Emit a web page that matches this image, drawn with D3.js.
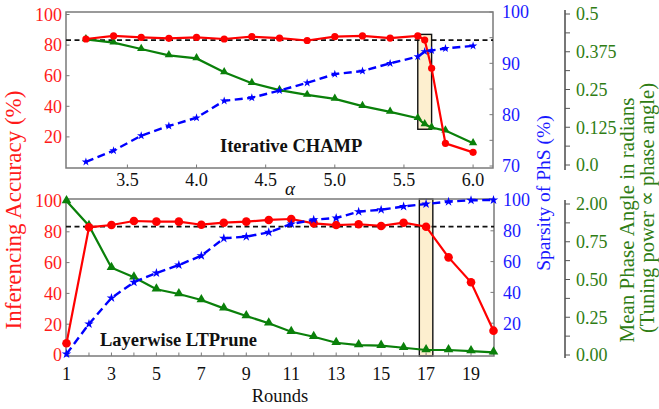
<!DOCTYPE html>
<html>
<head>
<meta charset="utf-8">
<script src="https://cdn.jsdelivr.net/npm/d3@7"></script>
<style>
  html, body { margin: 0; padding: 0; background: #fff; }
  svg { display: block; }
</style>
</head>
<body>
<svg id="chart" width="659" height="409"></svg>
<script>
// ---- Iterative CHAMP (sweep over alpha) ----
const alphaValues = [3.2, 3.4, 3.6, 3.8, 4.0, 4.2, 4.4, 4.6, 4.8, 5.0, 5.2, 5.4, 5.6, 5.65, 5.7, 5.8, 6.0];
const champAccuracy = [84, 86, 85, 84.4, 85, 84, 85.5, 84.6, 83, 85.5, 86, 84.6, 86, 83.3, 64.8, 15.8, 9.9];
const champSparsity = [70.8, 73.0, 75.9, 77.8, 79.4, 82.7, 83.3, 84.7, 86.2, 87.9, 88.5, 90.0, 91.3, 92.3, 92.5, 92.9, 93.4];
const champPhase = [0.416, 0.405, 0.384, 0.363, 0.353, 0.307, 0.271, 0.248, 0.232, 0.219, 0.195, 0.176, 0.155, 0.135, 0.124, 0.114, 0.072];
const champAlphaTicks = [3.5, 4.0, 4.5, 5.0, 5.5, 6.0];
const champAccTicks = [20, 40, 60, 80, 100];
const champSparTicks = [70, 80, 90, 100];
const champPhaseTicks = [0, 0.125, 0.25, 0.375, 0.5];
const champPhaseLabels = ["0.0", "0.125", "0.25", "0.375", "0.5"];
const champSelected = { x0: 5.6, x1: 5.7, y0: 25, y1: 87 };

// ---- Layerwise LTPrune (pruning rounds) ----
const rounds = d3.range(1, 21);
const ltAccuracy = [7.6, 82.9, 84.4, 87.0, 86.6, 86.6, 84.6, 85.9, 86.6, 87.7, 88.3, 85.5, 84.4, 84.9, 83.8, 85.9, 83.3, 63.4, 47.2, 15.8];
const ltSparsity = [0, 19.5, 36.4, 46.6, 52.6, 57.8, 63.8, 75.1, 76.2, 79, 84.4, 87.2, 88.3, 92.4, 93.7, 95.8, 97.4, 98.9, 99.8, 100];
const ltPhase = [1.02, 0.856, 0.578, 0.515, 0.435, 0.404, 0.364, 0.309, 0.258, 0.21, 0.154, 0.121, 0.081, 0.066, 0.062, 0.048, 0.033, 0.033, 0.026, 0.018];
const ltRoundTicks = [1, 3, 5, 7, 9, 11, 13, 15, 17, 19];
const ltAccTicks = [0, 20, 40, 60, 80, 100];
const ltSparTicks = [20, 40, 60, 80, 100];
const ltPhaseTicks = [0, 0.25, 0.5, 0.75, 1.0];
const ltPhaseLabels = ["0.00", "0.25", "0.50", "0.75", "2.00"];
const ltSelected = { x0: 16.7, x1: 17.3 };

// baseline accuracy reference
const baselineAccuracy = 83.3;

const RED = "#ff0000", BLUE = "#0000ff", GREEN = "#0a800a";
const RED_TXT = "#ff1a1a", BLUE_TXT = "#1a1aff", GREEN_TXT = "#2f7d14";
const FRAME = "#7a7a7a";
const SERIF = "'Liberation Serif', 'Times New Roman', Times, serif";

const svg = d3.select("#chart").attr("font-family", SERIF);

function panel(cfg) {
  const g = svg.append("g");
  const { box } = cfg;

  // highlighted selection band
  g.append("rect")
    .attr("x", cfg.x(cfg.sel.x0)).attr("width", cfg.x(cfg.sel.x1) - cfg.x(cfg.sel.x0))
    .attr("y", cfg.selY0).attr("height", cfg.selY1 - cfg.selY0)
    .attr("fill", "#fdefcf").attr("stroke", "#111").attr("stroke-width", 1.4);

  // frame
  g.append("rect")
    .attr("x", box.l).attr("y", box.t).attr("width", box.r - box.l).attr("height", box.b - box.t)
    .attr("fill", "none").attr("stroke", FRAME).attr("stroke-width", 1.5);

  // inward ticks: bottom
  g.selectAll(".xt").data(cfg.xMinor).join("line")
    .attr("x1", d => cfg.x(d)).attr("x2", d => cfg.x(d))
    .attr("y1", box.b).attr("y2", box.b - 3.5)
    .attr("stroke", FRAME).attr("stroke-width", 1);
  // inward ticks: left
  g.selectAll(".lt").data(cfg.accTicks).join("line")
    .attr("x1", box.l).attr("x2", box.l + 3.5)
    .attr("y1", d => cfg.yAcc(d)).attr("y2", d => cfg.yAcc(d))
    .attr("stroke", FRAME).attr("stroke-width", 1);
  // inward ticks: right
  g.selectAll(".rt").data(cfg.sparMinor).join("line")
    .attr("x1", box.r).attr("x2", box.r - 3.5)
    .attr("y1", d => cfg.ySpar(d)).attr("y2", d => cfg.ySpar(d))
    .attr("stroke", FRAME).attr("stroke-width", 1);

  // x tick labels
  g.selectAll(".xl").data(cfg.xTicks).join("text")
    .attr("x", d => cfg.x(d)).attr("y", cfg.xLabelY)
    .attr("text-anchor", "middle").attr("font-size", 18).attr("fill", "#111")
    .text(cfg.xFormat);

  // left tick labels
  g.selectAll(".ll").data(cfg.accTicks).join("text")
    .attr("x", box.l - 4).attr("y", d => cfg.yAcc(d)).attr("dy", "0.35em")
    .attr("text-anchor", "end").attr("font-size", 18).attr("fill", RED_TXT)
    .text(d => d);

  // right tick labels
  g.selectAll(".rl").data(cfg.sparTicks).join("text")
    .attr("x", box.r + 9).attr("y", d => cfg.ySpar(d)).attr("dy", "0.35em")
    .attr("text-anchor", "start").attr("font-size", 18).attr("fill", BLUE_TXT)
    .text(d => d);

  // separate phase-angle axis
  const ax = cfg.phaseAxisX;
  g.append("line").attr("x1", ax).attr("x2", ax)
    .attr("y1", cfg.phaseAxisT).attr("y2", cfg.phaseAxisB)
    .attr("stroke", "#555").attr("stroke-width", 1.6);
  g.selectAll(".pm").data(cfg.phaseMinor).join("line")
    .attr("x1", ax).attr("x2", ax + 5)
    .attr("y1", d => cfg.yPhase(d)).attr("y2", d => cfg.yPhase(d))
    .attr("stroke", "#555").attr("stroke-width", 1);
  g.selectAll(".pl").data(cfg.phaseTicks).join("text")
    .attr("x", ax + 11).attr("y", d => cfg.yPhase(d)).attr("dy", "0.35em")
    .attr("font-size", 18).attr("fill", GREEN_TXT)
    .text((d, i) => cfg.phaseLabels[i]);

  // baseline reference
  g.append("line")
    .attr("x1", box.l).attr("x2", box.r)
    .attr("y1", cfg.yAcc(baselineAccuracy)).attr("y2", cfg.yAcc(baselineAccuracy))
    .attr("stroke", "#111").attr("stroke-width", 1.8).attr("stroke-dasharray", "5,3.5");

  const xs = cfg.xs;
  const lineOf = (ys, yScale) => d3.line().x((d, i) => cfg.x(xs[i])).y(d => yScale(d))(ys);

  // phase angle (green, triangles)
  g.append("path").attr("d", lineOf(cfg.phase, cfg.yPhase))
    .attr("fill", "none").attr("stroke", GREEN).attr("stroke-width", 2.2);
  g.selectAll(".tri").data(cfg.phase).join("path")
    .attr("transform", (d, i) => `translate(${cfg.x(xs[i])},${cfg.yPhase(d) - 0.5})`)
    .attr("d", d3.symbol(d3.symbolTriangle, cfg.triSize)())
    .attr("fill", GREEN);

  // accuracy (red, circles)
  g.append("path").attr("d", lineOf(cfg.acc, cfg.yAcc))
    .attr("fill", "none").attr("stroke", RED).attr("stroke-width", 2.2);
  g.selectAll(".dot").data(cfg.acc).join("circle")
    .attr("cx", (d, i) => cfg.x(xs[i])).attr("cy", d => cfg.yAcc(d))
    .attr("r", cfg.dotR).attr("fill", RED);

  // sparsity (blue dashed, stars)
  g.append("path").attr("d", lineOf(cfg.spar, cfg.ySpar))
    .attr("fill", "none").attr("stroke", BLUE).attr("stroke-width", 2.4)
    .attr("stroke-dasharray", "8,4.5");
  g.selectAll(".star").data(cfg.spar).join("path")
    .attr("transform", (d, i) => `translate(${cfg.x(xs[i])},${cfg.ySpar(d)})`)
    .attr("d", d3.symbol(d3.symbolStar, cfg.starSize)())
    .attr("fill", BLUE);

  // panel title
  g.append("text").attr("x", cfg.titleX).attr("y", cfg.titleY)
    .attr("font-size", 18.5).attr("font-weight", "bold").attr("fill", "#111")
    .text(cfg.title);
  return g;
}

// top panel scales
const xAlpha = d3.scaleLinear().domain([3.056, 6.144]).range([66, 493]);
const yAccTop = d3.scaleLinear().domain([0, 100]).range([167.5, 14.5]);
panel({
  box: { l: 66, r: 493, t: 12, b: 168 },
  x: xAlpha, xs: alphaValues,
  xTicks: champAlphaTicks, xMinor: champAlphaTicks, xFormat: d3.format(".1f"), xLabelY: 186,
  yAcc: yAccTop,
  ySpar: d3.scaleLinear().domain([70, 100]).range([166, 12]),
  yPhase: d3.scaleLinear().domain([0, 0.5]).range([165, 14]),
  accTicks: champAccTicks, sparTicks: champSparTicks, sparMinor: d3.range(70, 101, 5),
  phaseTicks: champPhaseTicks, phaseLabels: champPhaseLabels, phaseMinor: d3.range(0, 0.501, 0.0625),
  phaseAxisX: 565, phaseAxisT: 10, phaseAxisB: 170,
  acc: champAccuracy, spar: champSparsity, phase: champPhase,
  sel: champSelected, selY0: yAccTop(champSelected.y1), selY1: yAccTop(champSelected.y0),
  triSize: 30, starSize: 22, dotR: 3.6,
  title: "Iterative CHAMP", titleX: 220, titleY: 152
});

// bottom panel scales
const xRound = d3.scaleLinear().domain([1, 20]).range([66.5, 493.5]);
panel({
  box: { l: 66, r: 494, t: 199, b: 356 },
  x: xRound, xs: rounds,
  xTicks: ltRoundTicks, xMinor: rounds, xFormat: d => d, xLabelY: 380,
  yAcc: d3.scaleLinear().domain([0, 100]).range([355, 201]),
  ySpar: d3.scaleLinear().domain([0, 100]).range([354, 200]),
  yPhase: d3.scaleLinear().domain([0, 1]).range([355, 204]),
  accTicks: ltAccTicks, sparTicks: ltSparTicks, sparMinor: d3.range(0, 101, 20),
  phaseTicks: ltPhaseTicks, phaseLabels: ltPhaseLabels, phaseMinor: d3.range(0, 1.001, 0.125),
  phaseAxisX: 565, phaseAxisT: 200, phaseAxisB: 358,
  acc: ltAccuracy, spar: ltSparsity, phase: ltPhase,
  sel: ltSelected, selY0: 199, selY1: 356,
  triSize: 40, starSize: 28, dotR: 4.3,
  title: "Layerwise LTPrune", titleX: 100, titleY: 346
});

// axis titles
svg.append("text").attr("x", 290).attr("y", 195).attr("text-anchor", "middle")
  .attr("font-size", 19).attr("font-style", "italic").attr("fill", "#111").text("α");
svg.append("text").attr("x", 280).attr("y", 402).attr("text-anchor", "middle")
  .attr("font-size", 18.5).attr("fill", "#111").text("Rounds");

svg.append("text").attr("transform", "translate(20.5,210) rotate(-90)")
  .attr("text-anchor", "middle").attr("font-size", 23).attr("fill", RED_TXT)
  .text("Inferencing Accuracy (%)");
svg.append("text").attr("transform", "translate(550,193) rotate(-90)")
  .attr("text-anchor", "middle").attr("font-size", 19.5).attr("fill", BLUE_TXT)
  .text("Sparsity of PhS (%)");
svg.append("text").attr("transform", "translate(634,220) rotate(-90)")
  .attr("text-anchor", "middle").attr("font-size", 21).attr("fill", GREEN_TXT)
  .text("Mean Phase Angle in radians");
svg.append("text").attr("transform", "translate(653.5,208) rotate(-90)")
  .attr("text-anchor", "middle").attr("font-size", 20.5).attr("fill", GREEN_TXT)
  .text("(Tuning power ∝ phase angle)");
</script>
</body>
</html>
